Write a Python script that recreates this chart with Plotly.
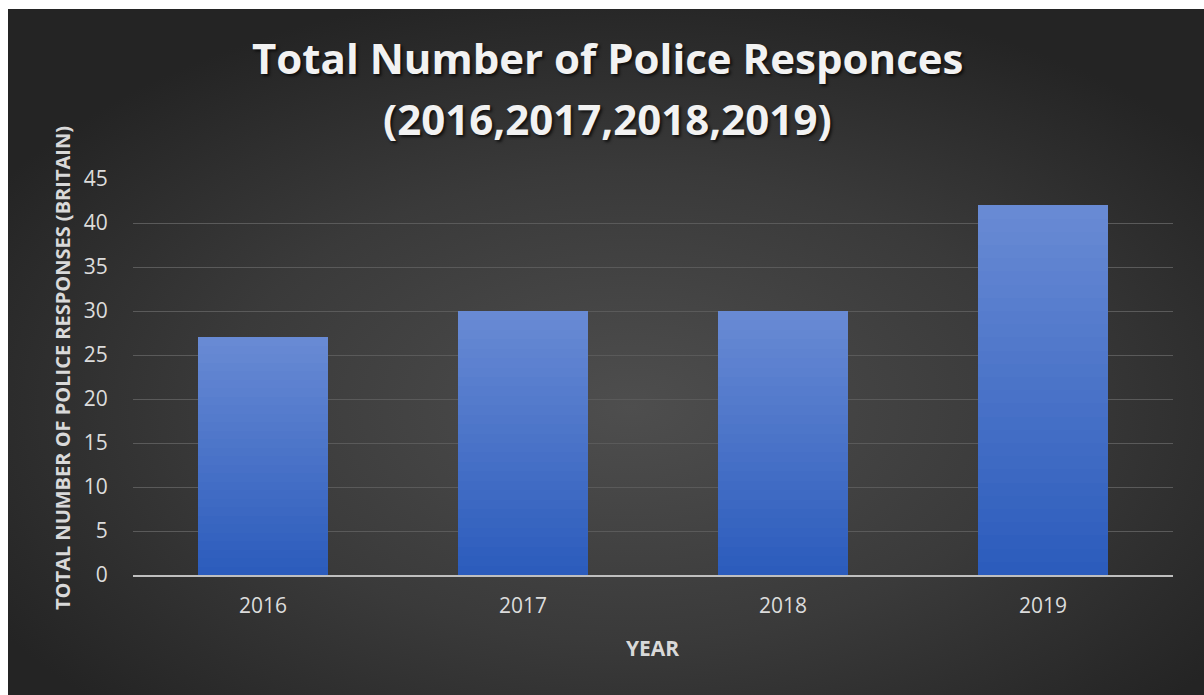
import urllib.parse
import plotly.graph_objects as go

# Data
years = ["2016", "2017", "2018", "2019"]
responses = [27, 30, 30, 42]
y_ticks = [0, 5, 10, 15, 20, 25, 30, 35, 40, 45]

title_line1 = "Total Number of Police Responces"
title_line2 = "(2016,2017,2018,2019)"
x_title = "YEAR"
y_title = "TOTAL NUMBER OF POLICE RESPONSES (BRITAIN)"

# Page geometry (px) -> plot area
W, H = 1204, 695
L, R, T, B = 133, 31, 179, 120
pw, ph = W - L - R, H - T - B


def px_x(x):
    return (x - L) / pw


def px_y(y):
    return (H - B - y) / ph


FONT = "Open Sans"

# Vertical gradient on each bar: stack N slices, each a fraction of the value
N = 28
top_rgb = (104, 138, 212)
bot_rgb = (44, 92, 188)

fig = go.Figure()
for i in range(N):
    t = i / (N - 1)
    c = tuple(round(b + (tp - b) * t) for b, tp in zip(bot_rgb, top_rgb))
    fig.add_trace(go.Bar(
        x=years,
        y=[v / N for v in responses],
        marker=dict(color=f"rgb{c}", line=dict(width=0)),
        showlegend=False,
        hoverinfo="skip" if i < N - 1 else None,
        customdata=responses,
        hovertemplate="%{x}: %{customdata}<extra></extra>",
    ))

# Dark radial background as an inline SVG
svg = (
    '<svg xmlns="http://www.w3.org/2000/svg" width="1196" height="686" '
    'viewBox="0 0 100 100" preserveAspectRatio="none">'
    '<defs><radialGradient id="g" cx="52%" cy="58%" r="62%">'
    '<stop offset="0%" stop-color="#4e4e4e"/>'
    '<stop offset="55%" stop-color="#3a3a3a"/>'
    '<stop offset="100%" stop-color="#242424"/>'
    '</radialGradient></defs>'
    '<rect x="0" y="0" width="100" height="100" fill="url(#g)"/></svg>'
)
bg_src = "data:image/svg+xml;charset=utf-8," + urllib.parse.quote(svg)

tick_font = dict(size=21, color="#dcdcdc")
title_font = dict(size=42, color="#f2f2f2", family=FONT,
                  shadow="2px 2px 3px rgba(0,0,0,0.7)")

fig.update_layout(
    width=W,
    height=H,
    margin=dict(l=L, r=R, t=T, b=B, autoexpand=False),
    paper_bgcolor="#ffffff",
    plot_bgcolor="rgba(0,0,0,0)",
    barmode="stack",
    bargap=0.5,
    font=dict(family=FONT, color="#d9d9d9"),
    images=[dict(
        source=bg_src,
        xref="paper", yref="paper",
        x=px_x(8), y=px_y(9),
        sizex=px_x(W) - px_x(8), sizey=px_y(9) - px_y(H),
        xanchor="left", yanchor="top",
        sizing="stretch", layer="below",
    )],
    xaxis=dict(
        type="category",
        showgrid=False,
        showline=True, linecolor="#bfbfbf", linewidth=2,
        ticks="outside", ticklen=11, tickcolor="rgba(0,0,0,0)",
        tickfont=tick_font,
        fixedrange=True,
    ),
    yaxis=dict(
        range=[0, 45],
        tickvals=y_ticks,
        showgrid=True, gridcolor="#5a5a5a", gridwidth=1,
        zeroline=False, showline=False,
        ticks="outside", ticklen=20, tickcolor="rgba(0,0,0,0)",
        tickfont=tick_font,
        fixedrange=True,
    ),
    annotations=[
        dict(text=f"<b>{title_line1}</b>", xref="paper", yref="paper",
             x=px_x(607), y=px_y(58), xanchor="center", yanchor="middle",
             showarrow=False, font=title_font),
        dict(text=f"<b>{title_line2}</b>", xref="paper", yref="paper",
             x=px_x(607), y=px_y(119), xanchor="center", yanchor="middle",
             showarrow=False, font=title_font),
        dict(text=f"<b>{x_title}</b>", xref="paper", yref="paper",
             x=px_x(652), y=px_y(648), xanchor="center", yanchor="middle",
             showarrow=False, font=dict(size=21, color="#d9d9d9", family=FONT)),
        dict(text=f"<b>{y_title}</b>", xref="paper", yref="paper",
             x=px_x(62), y=px_y(368), xanchor="center", yanchor="middle",
             textangle=-90, showarrow=False,
             font=dict(size=20, color="#d9d9d9", family=FONT)),
    ],
)

fig.write_html("out.html", config={"displayModeBar": False})
